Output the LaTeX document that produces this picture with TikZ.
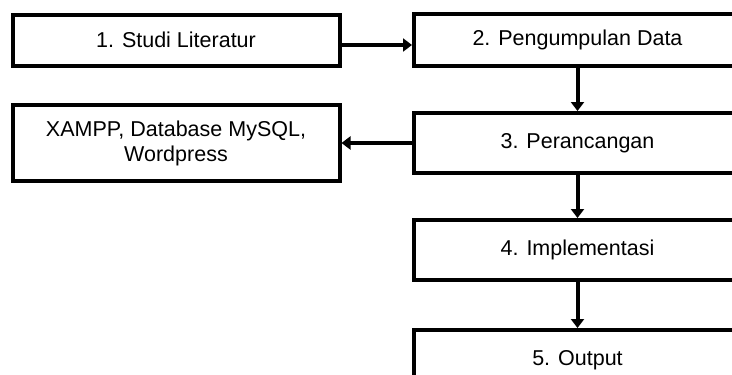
\documentclass[tikz,border=0pt]{standalone}
\usepackage{fontspec}
\setmainfont{Liberation Sans}
\usepackage{tikz}
\usetikzlibrary{positioning}
\usetikzlibrary{arrows.meta}

\begin{document}
\begin{tikzpicture}[x=1pt, y=-1pt,
		tahap/.style={draw, line width=4pt, minimum width=327pt, inner sep=0pt, align=center, font=\fontsize{21.5}{25}\selectfont},
		alur/.style={-{Triangle[length=9pt, width=13pt]}, line width=4pt}]
		\useasboundingbox (0,0) rectangle (732,375);
		\clip (0,0) rectangle (732,375);
		\node [tahap, minimum height=51pt] at (176,40) (studi) {1. Studi Literatur};
		\node [tahap, minimum height=52pt, right=70.5pt of studi] (data) {2. Pengumpulan Data};
		\node [tahap, minimum height=60pt, below=43pt of data] (rancang) {3. Perancangan};
		\node [tahap, minimum height=76pt, left=70.5pt of rancang] (tools) {XAMPP, Database MySQL,\\Wordpress};
		\node [tahap, minimum height=60pt, below=43pt of rancang] (impl) {4. Implementasi};
		\node [tahap, minimum height=60pt, below=46pt of impl] (output) {5. Output};

		% the first arrow sits a little below the middle of the boxes
		\draw [alur] ([yshift=-5pt]studi.east) -- ([yshift=-5pt]data.west);
		\draw [alur] (data.south) -- (rancang.north);
		\draw [alur] (rancang.west) -- (tools.east);
		\draw [alur] (rancang.south) -- (impl.north);
		\draw [alur] (impl.south) -- (output.north);
\end{tikzpicture}
\end{document}
